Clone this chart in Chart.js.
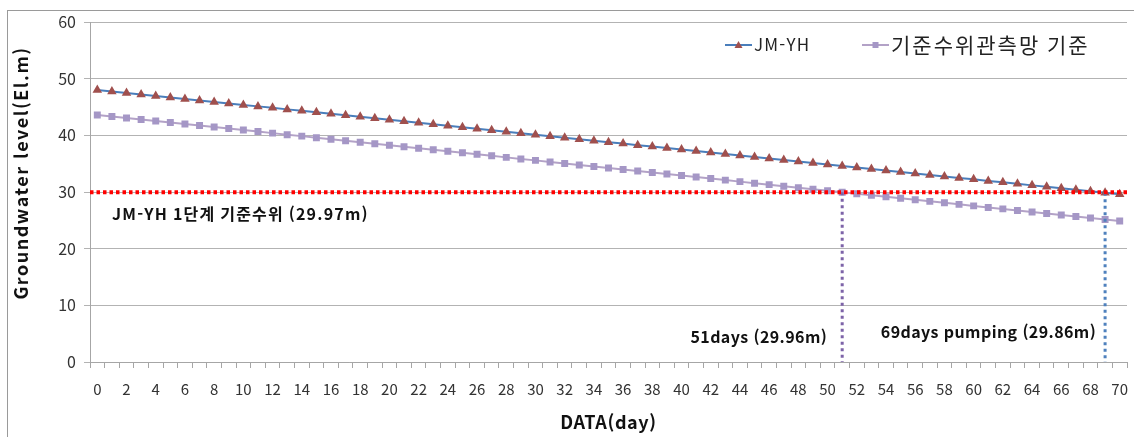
<!DOCTYPE html>
<html lang="ko">
<head>
  <meta charset="UTF-8">
  <title>Groundwater level</title>
  <script src="https://cdn.jsdelivr.net/npm/chart.js"></script>
  <style>
    body { margin: 0; background: #fff; }
    .wrap { position: relative; width: 1134px; height: 437px; }
    .frame {
      position: absolute; left: 7px; top: 10px; width: 1200px; height: 500px;
      border-left: 1px solid #9a9a9a; border-top: 1px solid #9a9a9a;
    }
    canvas { position: absolute; left: 0; top: 0; }
  </style>
</head>
<body>
  <div class="wrap">
    <div class="frame"></div>
    <canvas id="gwChart" width="1134" height="437"></canvas>
  </div>

  <script>
    // days 0..70
    const days = ["0","1","2","3","4","5","6","7","8","9","10","11","12","13","14","15","16","17","18","19",
      "20","21","22","23","24","25","26","27","28","29","30","31","32","33","34","35","36","37","38","39",
      "40","41","42","43","44","45","46","47","48","49","50","51","52","53","54","55","56","57","58","59",
      "60","61","62","63","64","65","66","67","68","69","70"];

    const jmyh = [48.00,47.74,47.47,47.21,46.95,46.69,46.42,46.16,45.90,45.63,
      45.37,45.11,44.85,44.58,44.32,44.06,43.79,43.53,43.27,43.00,
      42.74,42.48,42.22,41.95,41.69,41.43,41.16,40.90,40.64,40.38,
      40.11,39.85,39.59,39.32,39.06,38.80,38.54,38.27,38.01,37.75,
      37.48,37.22,36.96,36.70,36.43,36.17,35.91,35.64,35.38,35.12,
      34.86,34.59,34.33,34.07,33.80,33.54,33.28,33.01,32.75,32.49,
      32.23,31.96,31.70,31.44,31.17,30.91,30.65,30.39,30.12,29.86,29.60];

    const network = [43.60,43.33,43.07,42.80,42.53,42.26,42.00,41.73,41.46,41.19,
      40.93,40.66,40.39,40.12,39.86,39.59,39.32,39.05,38.79,38.52,
      38.25,37.98,37.72,37.45,37.18,36.91,36.65,36.38,36.11,35.84,
      35.58,35.31,35.04,34.77,34.51,34.24,33.97,33.70,33.44,33.17,
      32.90,32.63,32.37,32.10,31.83,31.56,31.30,31.03,30.76,30.49,
      30.23,29.96,29.69,29.42,29.16,28.89,28.62,28.35,28.09,27.82,
      27.55,27.28,27.02,26.75,26.48,26.21,25.95,25.68,25.41,25.14,24.88];

    const seriesNames = ["JM-YH", "기준수위관측망 기준"];
    const thresholdLevel = 29.97;
    const thresholdLabel = "JM-YH 1단계 기준수위 (29.97m)";
    const hitNetwork = { day: "51", level: 29.96, label: "51days (29.96m)" };
    const hitJmyh = { day: "69", level: 29.86, label: "69days pumping (29.86m)" };
    const yTicks = [0, 10, 20, 30, 40, 50, 60];
    const xTitle = "DATA(day)";
    const yTitle = "Groundwater level(El.m)";

    const FONT = "'Noto Sans CJK KR', 'Noto Sans', sans-serif";
    const BLUE = "#4a7ebb", MAROON = "#a0504e", LILAC = "#b3a2c7", LILAC_PT = "#a597c6";

    // dashed reference lines, text notes, legend and axis titles
    const notes = {
      id: "notes",
      afterDatasetsDraw(chart) {
        const { ctx, scales: { x, y }, chartArea } = chart;
        ctx.save();

        const vline = (day, level, color) => {
          const px = x.getPixelForValue(days.indexOf(day));
          ctx.strokeStyle = color;
          ctx.lineWidth = 3;
          ctx.setLineDash([3, 3.5]);
          ctx.beginPath();
          ctx.moveTo(px, y.getPixelForValue(level));
          ctx.lineTo(px, y.getPixelForValue(0));
          ctx.stroke();
          return px;
        };
        const p51 = vline(hitNetwork.day, hitNetwork.level, "#7d63a8");
        const p69 = vline(hitJmyh.day, hitJmyh.level, "#4f81bd");

        // threshold
        const ty = y.getPixelForValue(thresholdLevel);
        ctx.strokeStyle = "#ff0000";
        ctx.lineWidth = 4;
        ctx.setLineDash([3.5, 3]);
        ctx.beginPath();
        ctx.moveTo(chartArea.left, ty);
        ctx.lineTo(chartArea.right, ty);
        ctx.stroke();
        ctx.setLineDash([]);

        ctx.fillStyle = "#111";
        ctx.textBaseline = "middle";
        ctx.textAlign = "left";
        ctx.font = "bold 16px " + FONT;
        ctx.letterSpacing = "1.2px";
        ctx.fillText(thresholdLabel, chartArea.left + 22, ty + 22);
        ctx.letterSpacing = "0.4px";
        ctx.textAlign = "right";
        ctx.fillText(hitNetwork.label, p51 - 15, y.getPixelForValue(4.4));
        ctx.fillText(hitJmyh.label, p69 - 9, y.getPixelForValue(5.3));

        // axis titles
        ctx.textAlign = "center";
        ctx.font = "bold 18px " + FONT;
        ctx.letterSpacing = "0.6px";
        ctx.fillText(xTitle, (chartArea.left + chartArea.right) / 2, 422);
        ctx.save();
        ctx.translate(21, 173);
        ctx.rotate(-Math.PI / 2);
        ctx.font = "bold 18px " + FONT;
        ctx.letterSpacing = "1.5px";
        ctx.fillText(yTitle, 0, 0);
        ctx.restore();

        // legend
        const legend = (x0, label, style, fontSize, spacing, marker, lineColor) => {
          const ly = 45;
          ctx.strokeStyle = lineColor;
          ctx.lineWidth = 2;
          ctx.beginPath();
          ctx.moveTo(x0, ly);
          ctx.lineTo(x0 + 27, ly);
          ctx.stroke();
          ctx.fillStyle = marker;
          if (style === "triangle") {
            ctx.beginPath();
            ctx.moveTo(x0 + 13.5, ly - 4);
            ctx.lineTo(x0 + 17.5, ly + 3);
            ctx.lineTo(x0 + 9.5, ly + 3);
            ctx.closePath();
            ctx.fill();
          } else {
            ctx.fillRect(x0 + 10.5, ly - 3, 6, 6);
          }
          ctx.fillStyle = "#222";
          ctx.font = fontSize + "px " + FONT;
          ctx.letterSpacing = spacing;
          ctx.textAlign = "left";
          ctx.fillText(label, x0 + 29, ly);
        };
        legend(725, seriesNames[0], "triangle", 17, "1.2px", MAROON, BLUE);
        legend(862, seriesNames[1], "rect", 21, "2px", LILAC_PT, LILAC);

        ctx.letterSpacing = "0px";
        ctx.restore();
      }
    };

    const ctx = document.getElementById("gwChart").getContext("2d");
    new Chart(ctx, {
      type: "line",
      data: {
        labels: days,
        datasets: [
          {
            label: seriesNames[0],
            data: jmyh,
            borderColor: BLUE,
            borderWidth: 2,
            pointStyle: "triangle",
            pointRadius: 3.5,
            pointBackgroundColor: MAROON,
            pointBorderColor: MAROON,
            tension: 0
          },
          {
            label: seriesNames[1],
            data: network,
            borderColor: LILAC,
            borderWidth: 2,
            pointStyle: "rect",
            pointRadius: 3.5,
            pointBackgroundColor: LILAC_PT,
            pointBorderColor: LILAC_PT,
            tension: 0
          }
        ]
      },
      options: {
        responsive: false,
        animation: false,
        layout: { padding: { left: 0, right: 7, top: 22, bottom: 0 } },
        plugins: { legend: { display: false }, tooltip: { enabled: false } },
        scales: {
          x: {
            offset: true,
            grid: { offset: true, drawOnChartArea: false, color: "#a6a6a6", tickLength: 6 },
            border: { color: "#a6a6a6" },
            ticks: {
              autoSkip: false, maxRotation: 0, padding: 12,
              color: "#333", font: { family: FONT, size: 15 },
              callback: (v, i) => (i % 2 === 0 ? days[i] : "")
            },
            afterFit: s => { s.height = 75; s.paddingLeft = 0; s.paddingRight = 0; }
          },
          y: {
            min: 0, max: 60,
            afterBuildTicks: s => { s.ticks = yTicks.map(v => ({ value: v })); },
            grid: { color: "#b3b3b3", tickLength: 6 },
            border: { color: "#a6a6a6" },
            ticks: { color: "#333", padding: 8, font: { family: FONT, size: 16 } },
            afterFit: s => { s.width = 90; }
          }
        }
      },
      plugins: [notes]
    });
  </script>
</body>
</html>
